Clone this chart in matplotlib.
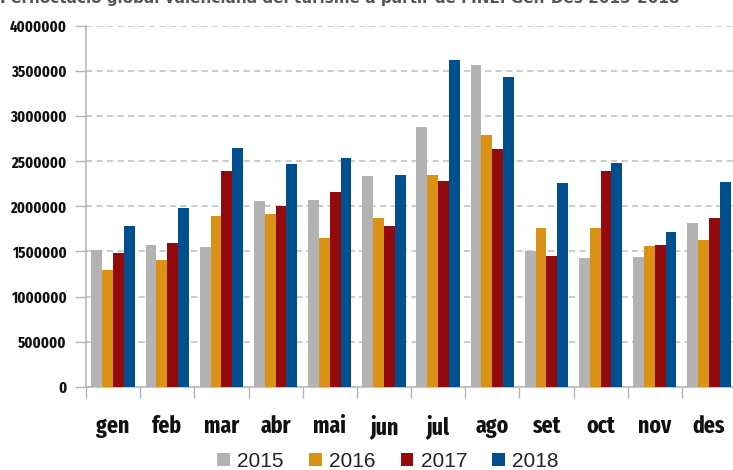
import matplotlib
matplotlib.use("Agg")
import os
import glob
import matplotlib.pyplot as plt
import matplotlib.font_manager as fm
import numpy as np
from matplotlib.patches import Patch
from matplotlib.ticker import FixedLocator, NullFormatter

months = ["gen", "feb", "mar", "abr", "mai", "jun", "jul", "ago", "set", "oct", "nov", "des"]
years = ["2015", "2016", "2017", "2018"]
v2015 = [1511000, 1574000, 1552000, 2063000, 2074000, 2341000, 2885000, 3563000, 1507000, 1430000, 1441000, 1819000]
v2016 = [1296000, 1407000, 1896000, 1919000, 1652000, 1874000, 2352000, 2796000, 1763000, 1763000, 1563000, 1630000]
v2017 = [1485000, 1596000, 2396000, 2007000, 2163000, 1785000, 2285000, 2641000, 1452000, 2396000, 1574000, 1874000]
v2018 = [1785000, 1985000, 2652000, 2474000, 2541000, 2352000, 3619000, 3430000, 2263000, 2485000, 1719000, 2274000]
series = [v2015, v2016, v2017, v2018]
colors = ["#b3b3b3", "#d99116", "#930a0d", "#00508f"]
yticks = [0, 500000, 1000000, 1500000, 2000000, 2500000, 3000000, 3500000, 4000000]
title = "Pernoctació global valenciana del turisme a partir de l'INE. Gen-Des 2015-2018"


def find_condensed():
    files = [f.fname for f in fm.fontManager.ttflist]
    files += glob.glob("/usr/share/fonts/**/*.[ot]tf", recursive=True)
    best = None
    for fn in files:
        b = os.path.splitext(os.path.basename(fn))[0].lower()
        if "bold" not in b or "italic" in b or "semi" in b or "extrabold" in b:
            continue
        if "extracondensed" in b:
            return fn, "xc"
        if ("condensed" in b or "narrow" in b) and best is None:
            best = (fn, "c")
    return best if best else (None, None)


cond_file, kind = find_condensed()
if kind == "xc":
    fm.fontManager.addfont(cond_file)
    condfp = lambda size: fm.FontProperties(fname=cond_file, size=size)
    ysize, msize = 11.5, 17
elif kind == "c":
    fm.fontManager.addfont(cond_file)
    condfp = lambda size: fm.FontProperties(fname=cond_file, size=size)
    ysize, msize = 9.8, 15
else:
    condfp = lambda size: fm.FontProperties(family=["Roboto", "DejaVu Sans"], weight="bold", size=size)
    ysize, msize = 10, 14

W, H = 733, 470
fig = plt.figure(figsize=(W / 100, H / 100), dpi=100)
ax = fig.add_axes([86 / W, 83.3 / H, 1 - 86 / W, (386.7 - 26) / H])

x = np.arange(len(months))
bw = 0.2
for k, (vals, c) in enumerate(zip(series, colors)):
    ax.bar(x + 0.1 + bw * k + bw / 2, vals, width=bw, color=c, align="center", zorder=3, linewidth=0)

ax.set_ylim(0, 4000000)
ax.set_xlim(0, (W - 86) / 54.17)
ax.set_yticks(yticks)
ax.set_yticklabels([str(t) for t in yticks])
for lab in ax.get_yticklabels():
    lab.set_fontproperties(condfp(ysize))

ax.xaxis.set_major_locator(FixedLocator(np.arange(0, 13)))
ax.xaxis.set_major_formatter(NullFormatter())
ax.xaxis.set_minor_locator(FixedLocator(x + 0.5))
ax.set_xticklabels(months, minor=True)
for lab in ax.get_xticklabels(minor=True):
    lab.set_fontproperties(condfp(msize))
ax.tick_params(axis="x", which="minor", length=0, pad=20, labelcolor="#111111")
ax.tick_params(axis="x", which="major", length=8, color="#b3b3b3", width=1)
ax.tick_params(axis="y", length=8, color="#b3b3b3", width=1, pad=6, labelcolor="#111111")

ax.grid(axis="y", color="#cccccc", linestyle=(0, (3.2, 2.2)), linewidth=1.4, zorder=0)
for s in ["top", "right"]:
    ax.spines[s].set_visible(False)
for s in ["left", "bottom"]:
    ax.spines[s].set_color("#b3b3b3")
    ax.spines[s].set_linewidth(1.1)

handles = [Patch(facecolor=c, edgecolor="none") for c in colors]
fig.legend(handles, years, loc="center", bbox_to_anchor=(388 / W, 1 - 461.5 / H), ncol=4,
           frameon=False, handlelength=0.62, handleheight=0.62, handletextpad=0.34,
           columnspacing=1.2, prop={"family": "Liberation Sans", "size": 15},
           labelcolor="#222222", borderpad=0)

fig.text(0.0, 1.0 + 0.022, title,
         ha="left", va="top", fontsize=11, fontweight="bold", color="#555555")

fig.savefig("out.png", dpi=100)
